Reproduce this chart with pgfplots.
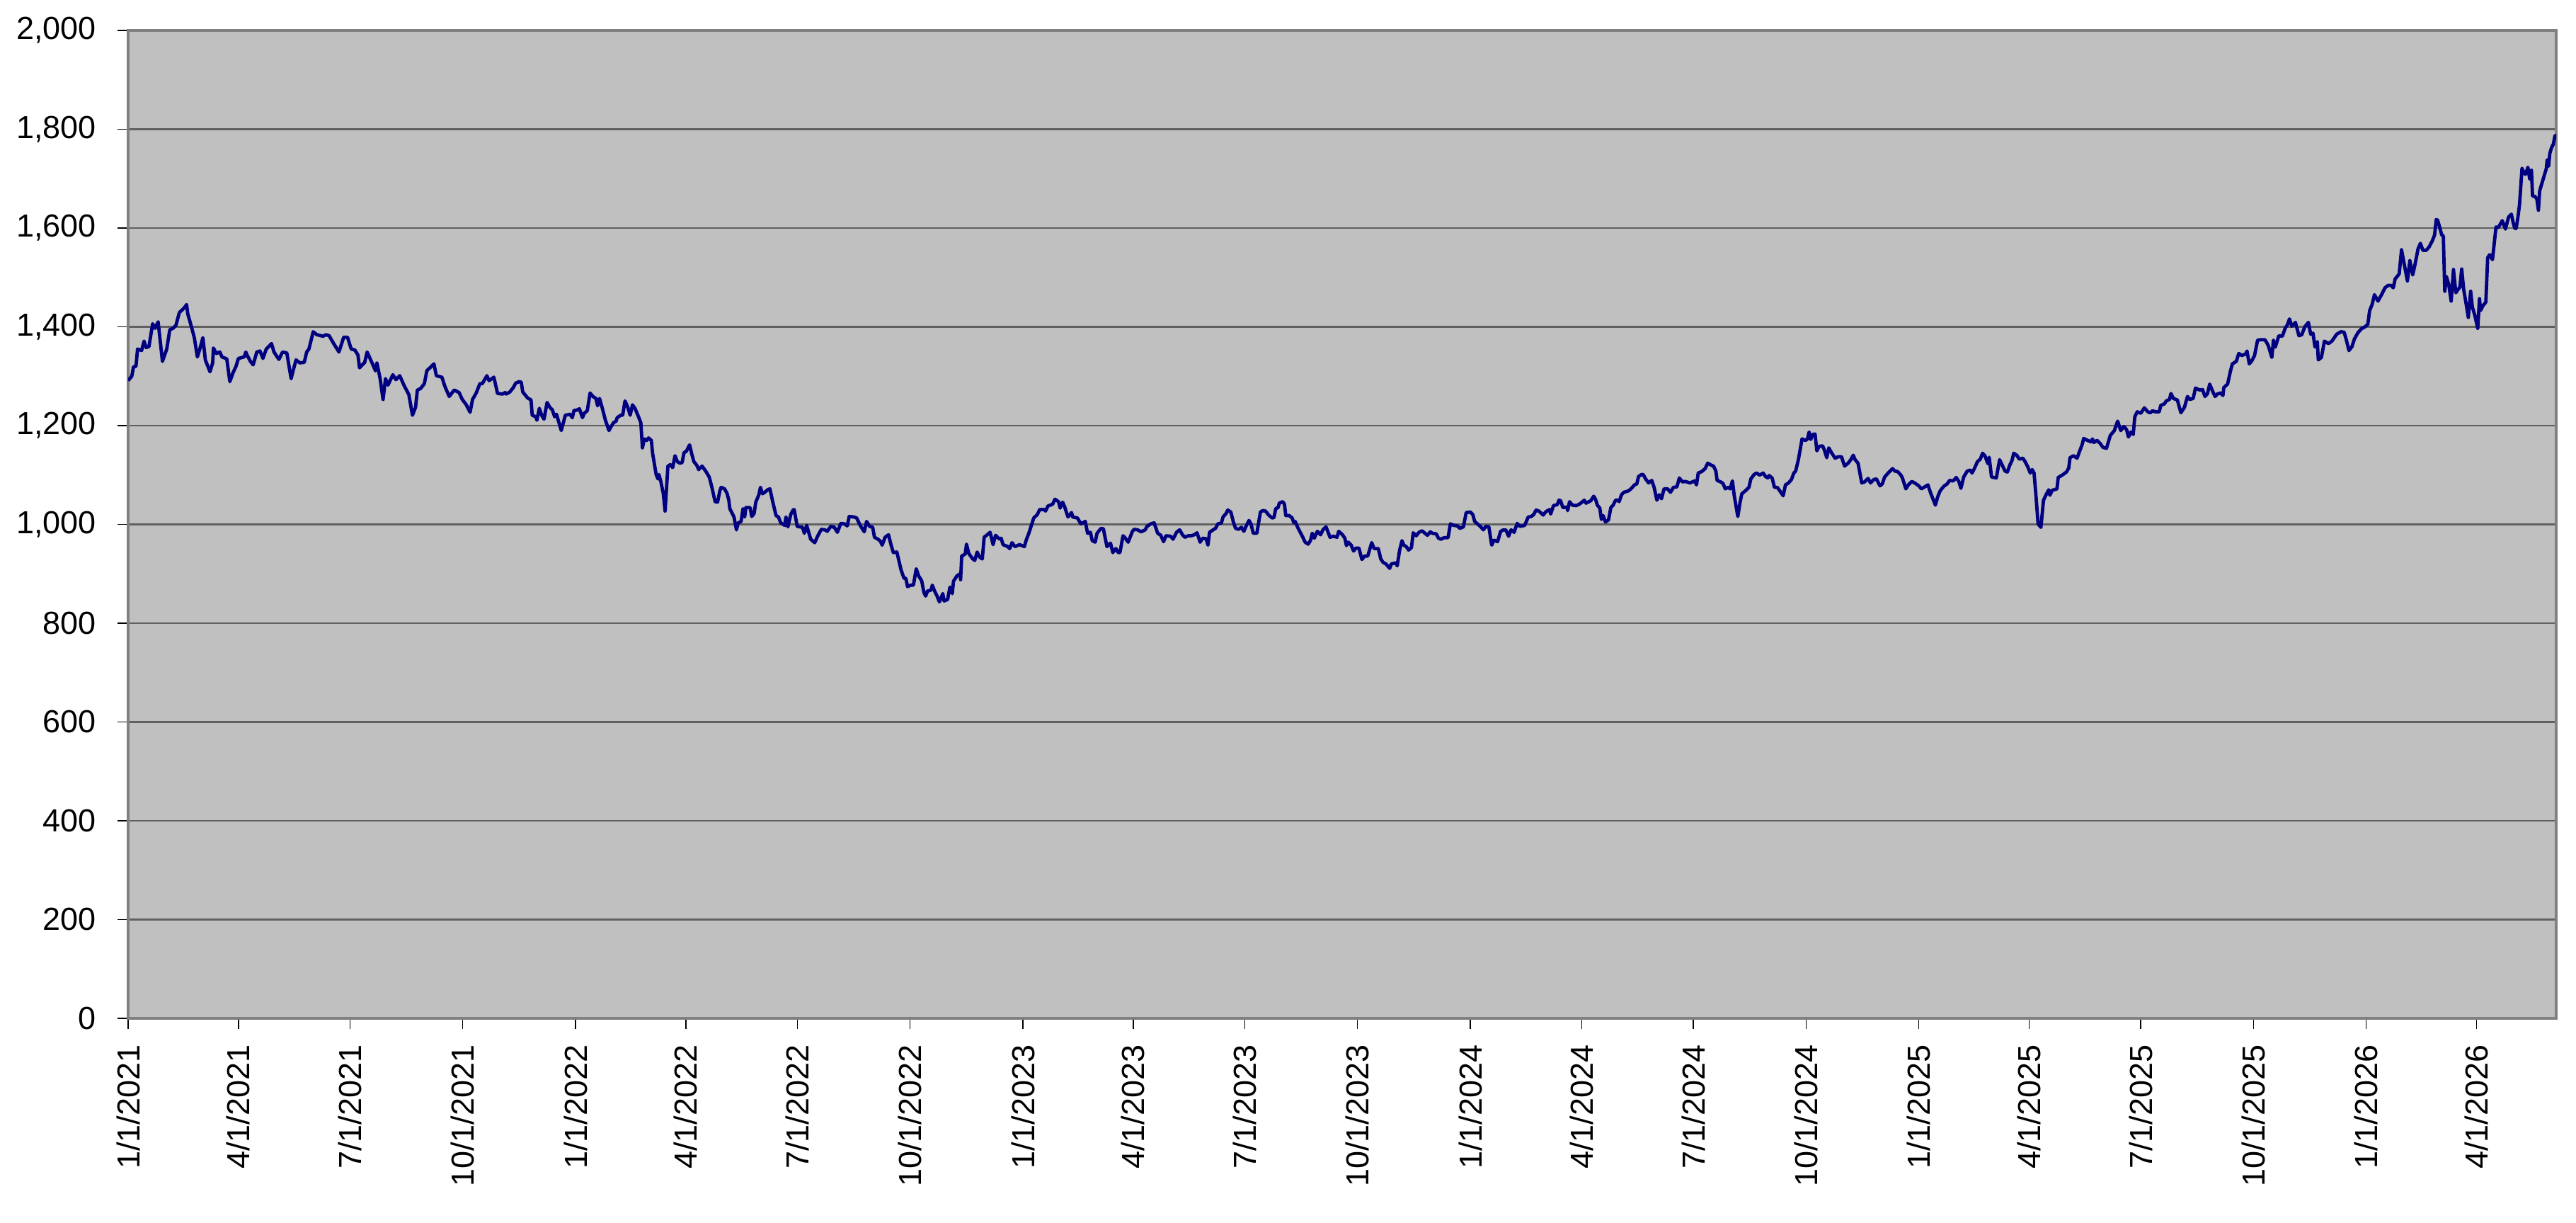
\documentclass[border=0pt]{standalone}
\usepackage{fontspec}
\setmainfont{Liberation Sans}
\usepackage{pgfplots}
\usepackage{pgfplotstable}
\pgfplotsset{compat=1.18}
\definecolor{plotbg}{RGB}{192,192,192}
\definecolor{navyline}{RGB}{0,0,128}
\definecolor{gridc}{RGB}{96,96,96}
\definecolor{framec}{RGB}{128,128,128}
\pgfplotstableread{
day value
0 1291
3 1300
4.4 1319
6.4 1320
7.7 1355
11 1352
13 1371
14.7 1358
17 1360
20 1406
22 1397
24.5 1410
28 1330
31.5 1355
34 1394
36.6 1397
39 1403
41.8 1429
45.7 1438
47.7 1445
48.7 1426
52 1397
54 1378
56.5 1339
58.5 1355
61 1378
63 1333
66.8 1309
69 1327
69.6 1357
72 1346
74.8 1349
76.6 1339
80.5 1335
83 1289
85.6 1307
88 1320
90 1336
94.7 1339
96 1349
97 1343
99.8 1330
102 1323
105 1349
107.6 1351
110 1336
112.7 1355
117 1366
119 1349
123 1334
126 1349
129.5 1347
133 1295
134.6 1311
137 1333
140 1327
143.7 1328
145.7 1349
147.5 1355
151 1390
154 1384
159 1381
161.6 1384
164 1382
168 1365
172 1349
175.9 1379
179 1379
182 1355
185 1353
187.5 1343
188.8 1317
193 1328
195 1349
199 1327
201.8 1311
203 1327
205.6 1295
208 1253
210 1295
212 1282
216 1303
218.5 1293
221.6 1301
225 1282
229 1263
232 1221
234.5 1237
236 1272
238.6 1275
241.7 1285
243.7 1311
249.5 1325
251.5 1301
256 1298
258.5 1279
262 1259
266 1272
270 1267
272.6 1253
275.7 1243
279 1227
281 1253
284 1266
287 1285
289 1285
292.7 1301
294.5 1291
298.4 1298
301.4 1265
305.6 1264
307.6 1267
308.5 1264
311.4 1268
314.3 1277
316.2 1286
319 1289
320.7 1288
322 1268
325.9 1256
328.7 1252
329.7 1221
332.6 1218
333.5 1211
335.5 1235
337.4 1221
339.3 1213
341.8 1247
344.1 1237
346.1 1232
348 1218
349.5 1223
350.9 1211
353.4 1190
356.7 1221
360.5 1223
362.4 1216
363.8 1231
365.7 1231
368.2 1234
370.7 1216
372.1 1225
374.6 1230
376.9 1266
379.2 1259
381.7 1255
383 1240
384.6 1255
386.9 1235
389.4 1211
392.3 1190
393.8 1197
396.1 1206
398.1 1209
399 1216
401.9 1221
403.5 1221
405.4 1250
407.7 1237
409.6 1221
411.5 1242
413.5 1235
416.4 1218
418.3 1206
419.6 1155
421.2 1173
423.1 1170
424.6 1175
426.9 1170
427.9 1144
430.8 1101
432.3 1092
433.1 1101
434.6 1087
436.6 1063
438.1 1027
440.4 1118
442.4 1121
444.3 1115
446.2 1139
448.1 1127
450.1 1124
452 1125
453.5 1145
455.4 1148
458.1 1161
459.7 1144
461.6 1127
463.9 1120
465.5 1111
468.3 1118
471.2 1108
474.1 1096
476.1 1077
478.9 1046
480.9 1045
482.8 1068
483.8 1075
486.6 1072
488.6 1063
490.1 1049
490.9 1032
494.3 1015
496.3 989
497.8 1003
500.1 1006
501.7 1032
503 1015
504 1034
507.5 1034
508.8 1016
510.7 1022
512.1 1045
514.6 1060
515.9 1075
517.5 1062
519.4 1065
521.7 1070
523.6 1072
526.1 1044
528.6 1018
530.6 1015
532.5 1003
535.7 998
536.7 1015
538.3 995
540.6 1020
542.5 1029
543.4 1030
545.9 996
550.2 994
551.7 982
553.6 998
556.9 970
560.2 963
562.7 977
565.6 990
568.5 989
570.4 986
573.3 996
576.2 994
578.7 984
581.4 1002
584.4 1001
586.7 997
588.3 1016
592.1 1015
594.4 1013
597.3 998
600.6 985
602.5 1006
605 996
607.5 994
608.9 974
611.8 970
613.7 966
615.2 958
617.6 974
620.4 979
622.4 959
624.3 943
627.2 944
630.6 908
633 891
634.5 891
635.9 874
638.7 877
640.7 877
643 910
644.9 896
647.4 886
649.3 862
650.7 855
652.2 865
655.1 867
656.1 877
658 865
660 855
661.9 843
664.7 860
665.7 845
668.6 848
670.5 873
672.4 860
673.4 885
676.3 896
678.8 900
679.2 888
680.1 936
683 940
684 960
685.9 941
688.8 931
690.7 927
692.7 944
694.6 934
696.9 930
698.4 974
700.4 978
703.3 984
705.7 959
707.7 978
711 970
712.3 972
713.8 959
717.7 955
719.2 951
721.2 963
723.5 955
727.3 959
731.2 955
732.7 968
735 983
738.9 1013
741.8 1020
743.7 1030
747.5 1030
748.5 1027
750.4 1037
754.3 1041
756.2 1051
759.1 1046
760.4 1033
762.4 1045
763.9 1037
766.8 1015
769.7 1024
770.6 1015
774.5 1013
777.4 1001
780.9 1006
782.8 982
785.1 984
786.6 967
789 964
790.5 982
793.8 992
795.7 991
798.6 955
801.5 962
803.4 943
805.9 951
807.8 943
809.2 943
811.7 977
813 974
815.9 964
819.4 986
820.7 990
823.6 989
826.5 985
829.8 989
831.3 996
834.2 1001
837.1 1003
840 982
842.5 978
844.8 965
846.7 977
850.6 976
852.5 970
855.4 984
857.9 989
860.2 979
862.1 974
865 977
867.5 977
869.8 979
872.1 983
874.6 964
876.6 972
879.5 971
881 958
882.3 984
885.2 989
887.2 992
889.1 1001
892 1003
893.3 1015
895.8 1022
897.2 1029
899.7 1025
901.6 1006
903.5 992
906 990
908.3 994
910.3 986
912.2 997
914.5 1008
916.1 1001
918 982
920.9 982
923.8 1025
925.7 1028
928 1027
930.5 1019
933.4 1013
934.9 1014
936.3 1032
938.2 1034
939.2 1043
942 1046
943.4 1041
944.5 1018
947.2 1018
949.7 1013
951.1 1003
952.2 1006
954.2 994
958.4 974
960.3 964
962.7 960
964.6 967
966.1 982
967.7 972
970.3 986
972.9 979
974.8 989
977.3 995
980.6 974
983.4 976
986.3 974
987.7 986
990.8 979
992.7 972
994 957
995.4 964
997.9 958
999.8 946
1001.7 952
1004.2 952
1006.6 929
1008.9 936
1011.4 936
1014.6 963
1016.6 951
1020 951
1022 930
1023.9 923
1026.2 920
1029.3 911
1030.6 920
1034.5 922
1035.4 916
1037.4 948
1039.3 967
1040.8 958
1042.8 955
1044.7 948
1047 953
1048.5 983
1050.9 977
1053.2 984
1055.7 987
1057.6 983
1060.1 978
1062.4 985
1064 982
1067.2 981
1069.1 972
1071.1 970
1073.6 973
1076.9 973
1078.8 1001
1081.7 998
1084.6 997
1086.5 992
1089.4 995
1091.7 1024
1095.1 1025
1097.1 1020
1098.6 1006
1100.9 1001
1103.2 996
1105.7 989
1107.7 996
1110.2 995
1112.5 958
1114.4 968
1117.3 965
1119.8 986
1122.1 989
1124 989
1126.3 976
1128.3 989
1130.8 984
1133.3 1002
1135.6 996
1139.4 998
1142.3 1015
1144.8 1016
1146.8 1020
1148.7 1029
1151 1027
1154.5 1019
1156.8 1026
1159.7 1030
1160.6 1021
1162.9 1038
1166 1040
1167.4 1049
1168.7 1048
1170.6 1034
1173.7 1035
1174.5 1028
1176 1046
1178.3 1039
1181.4 1038
1183.3 1040
1185.7 1044
1188 1049
1189.5 1043
1193.4 1048
1195.7 1057
1197.2 1051
1198.7 1039
1200.7 1033
1202 1010
1203.4 1018
1205.3 1005
1207.8 1009
1209.7 1034
1211.6 1039
1213.6 1049
1215.5 1049
1216.5 1046
1218.4 1060
1220.3 1065
1224.2 1068
1226.1 1072
1229 1080
1230.9 1082
1232.3 1097
1234.8 1101
1236.1 1101
1238.1 1092
1240.5 1084
1243.1 1089
1245 1075
1247.3 1049
1249.2 1060
1251.1 1052
1253.1 1072
1256 1072
1258.4 1065
1260.8 1075
1263.6 1076
1265.6 1094
1268.1 1086
1270.4 1087
1274.2 1084
1278.1 1088
1279.6 1080
1281 1104
1283.9 1107
1286.7 1113
1288.7 1124
1291.6 1120
1293.5 1118
1295.4 1108
1296.4 1089
1299.3 1086
1301.2 1083
1303.1 1072
1305.4 1075
1307 1072
1308.9 1088
1310.4 1058
1313.3 1016
1315.1 1044
1316.6 1062
1319.5 1068
1322.4 1075
1323.9 1092
1326.6 1101
1328.5 1104
1331.1 1100
1334 1104
1335.9 1097
1337.8 1094
1338.8 1099
1341.3 1094
1343.2 1075
1345.5 1075
1348.4 1065
1350.3 1058
1352.2 1080
1354.7 1084
1357.1 1091
1359 1104
1360.5 1108
1362.8 1132
1365.7 1173
1368.6 1170
1370.1 1173
1371.5 1187
1372.8 1172
1374.4 1182
1376.3 1183
1377.8 1149
1379.6 1158
1382.5 1159
1384 1150
1385.9 1135
1387.5 1155
1389.8 1145
1392.7 1134
1395.2 1137
1397.9 1137
1400.4 1118
1403.3 1124
1405.2 1130
1407.5 1140
1409 1131
1411.4 1124
1414.4 1084
1416.7 1086
1419.6 1093
1421.6 1084
1424.4 1091
1426.4 1092
1429.3 1078
1431.2 1082
1433.1 1096
1436 1104
1439.5 1113
1441.4 1108
1443.7 1107
1446.6 1099
1447.6 1094
1450.4 1072
1452.4 1080
1455.3 1087
1458.2 1083
1461 1078
1463 1072
1465.8 1076
1468.4 1080
1470.7 1063
1472.6 1051
1474.5 1039
1476.4 1056
1478.4 1068
1481.3 1077
1484.1 1082
1486.1 1089
1489 1088
1491.5 1095
1493.8 1086
1495.3 1073
1497.6 1096
1500.5 1108
1503 1110
1504.4 1104
1506.3 1113
1508.8 1127
1511.1 1132
1513 1144
1514.9 1139
1517.3 1123
1518.4 1136
1520.3 1096
1524.2 1094
1526.9 1131
1529.4 1118
1531.3 1108
1533.2 1106
1535.2 1120
1537.1 1130
1538.4 1144
1540.9 1140
1542.9 1132
1545.8 1134
1547.7 1127
1549.6 1118
1551.9 1104
1553.5 1111
1555 1104
1556.4 1063
1558.3 1001
1560.6 994
1562.7 1049
1565 1061
1567 1070
1567.9 1059
1569.8 1069
1573.7 1072
1574.7 1095
1578.1 1100
1581.4 1106
1583.3 1114
1584.3 1135
1587.2 1139
1590.1 1134
1592 1147
1594.3 1162
1595.5 1174
1598.7 1170
1601.6 1167
1602.6 1173
1603.9 1166
1606.4 1170
1608.9 1164
1611.2 1156
1614.1 1154
1617.2 1180
1620.5 1190
1623.2 1209
1625.7 1190
1628.2 1198
1630.5 1192
1632 1177
1634 1187
1635.9 1182
1637.2 1218
1639.2 1228
1642.1 1225
1645 1236
1647.8 1228
1649.8 1226
1651.7 1230
1654 1228
1657.1 1228
1658.4 1241
1661.3 1244
1662.9 1250
1665.5 1253
1666.7 1265
1668.6 1255
1671.9 1252
1674.8 1226
1677.7 1237
1680.2 1259
1682.1 1253
1684.8 1255
1686.7 1276
1690.2 1272
1692.5 1273
1694.4 1259
1696.4 1264
1698.3 1284
1700.8 1269
1702.7 1259
1704.6 1264
1707.1 1266
1709.1 1261
1709.8 1277
1712.9 1284
1715.2 1310
1716.8 1325
1720 1330
1722 1346
1724.5 1342
1727.7 1345
1728.7 1351
1730.6 1325
1732.6 1331
1734.9 1342
1737.4 1373
1740.3 1374
1743.2 1374
1744.1 1371
1746.1 1362
1749 1338
1750.3 1373
1751.8 1359
1754.7 1382
1757.6 1381
1760 1398
1761.5 1403
1763.4 1416
1765.3 1401
1768.2 1409
1769.5 1397
1771.1 1382
1773.4 1384
1775.9 1400
1778.8 1409
1780.7 1385
1782.6 1387
1784.2 1359
1786.1 1370
1786.9 1333
1789.4 1338
1791.9 1371
1795.2 1366
1798 1371
1801.9 1385
1805.3 1390
1808 1389
1809.6 1375
1811.9 1352
1814.4 1360
1816.3 1375
1819.2 1388
1822.1 1396
1825 1400
1827.3 1405
1828.8 1433
1830.8 1445
1832.7 1465
1835.6 1452
1838.5 1465
1841.3 1479
1843.9 1484
1846.2 1484
1848.1 1479
1849.6 1497
1852.9 1507
1854.8 1556
1856.7 1531
1859.6 1493
1861.6 1534
1863.9 1505
1865.8 1526
1868.3 1558
1870.2 1569
1872.2 1555
1875 1555
1877.4 1562
1879.9 1574
1881.8 1586
1883.1 1617
1884.3 1616
1887.6 1586
1888.9 1584
1890.1 1472
1891.4 1502
1893.3 1486
1895.3 1452
1897.2 1516
1899.1 1469
1901 1476
1902.4 1480
1903.9 1517
1905.5 1476
1907.4 1448
1909.3 1419
1911.2 1472
1912.6 1440
1914.5 1424
1917 1397
1918.4 1457
1919.3 1433
1921.3 1443
1923.6 1450
1925.1 1540
1926.7 1546
1929 1536
1931.9 1602
1933.8 1601
1937 1615
1939.6 1598
1942.1 1622
1944.4 1628
1946 1610
1947.3 1599
1948.3 1599
1949.8 1622
1951.1 1648
1953.1 1721
1955 1710
1956 1709
1957.9 1723
1959.4 1699
1960.8 1717
1961.7 1665
1963.6 1664
1965.2 1659
1966.5 1636
1967.5 1675
1969.4 1691
1971.7 1710
1972.9 1720
1973.6 1738
1974.8 1725
1975.8 1751
1977.1 1762
1978.7 1770
1980 1787
1981 1787
}\series
\begin{document}
\begin{tikzpicture}
\useasboundingbox (-36.2pt,-57.6pt) rectangle (691.6pt,287.6pt);
\begin{axis}[
  at={(0pt,0pt)}, anchor=south west,
  scale only axis, width=686pt, height=279pt,
  xmin=0, xmax=1981, ymin=0, ymax=2000,
  axis background/.style={fill=plotbg},
  ytick={0,200,...,2000},
  ymajorgrids,
  major grid style={gridc, line width=0.45pt},
  xtick={0,90,181,273,365,455,546,638,730,820,911,1003,1095,1186,1277,1369,1461,1551,1642,1734,1826,1916},
  xticklabels={1/1/2021,4/1/2021,7/1/2021,10/1/2021,1/1/2022,4/1/2022,7/1/2022,10/1/2022,1/1/2023,4/1/2023,7/1/2023,10/1/2023,1/1/2024,4/1/2024,7/1/2024,10/1/2024,1/1/2025,4/1/2025,7/1/2025,10/1/2025,1/1/2026,4/1/2026},
  tick align=outside,
  major tick length=3pt,
  tick style={black, line width=0.3pt},
  xtick pos=bottom, ytick pos=left,
  axis line style={framec, line width=0.7pt},
  tick label style={font=\fontsize{9}{10}\selectfont, text=black},
  /pgf/number format/assume math mode=true,
  /pgf/number format/1000 sep={,},
  yticklabel style={xshift=-2.5pt},
  xticklabel style={yshift=-1pt, rotate=90, anchor=east},
]
\addplot[navyline, line width=0.95pt, line join=round, mark=none] table[x=day, y=value] {\series};
\end{axis}
\end{tikzpicture}
\end{document}
